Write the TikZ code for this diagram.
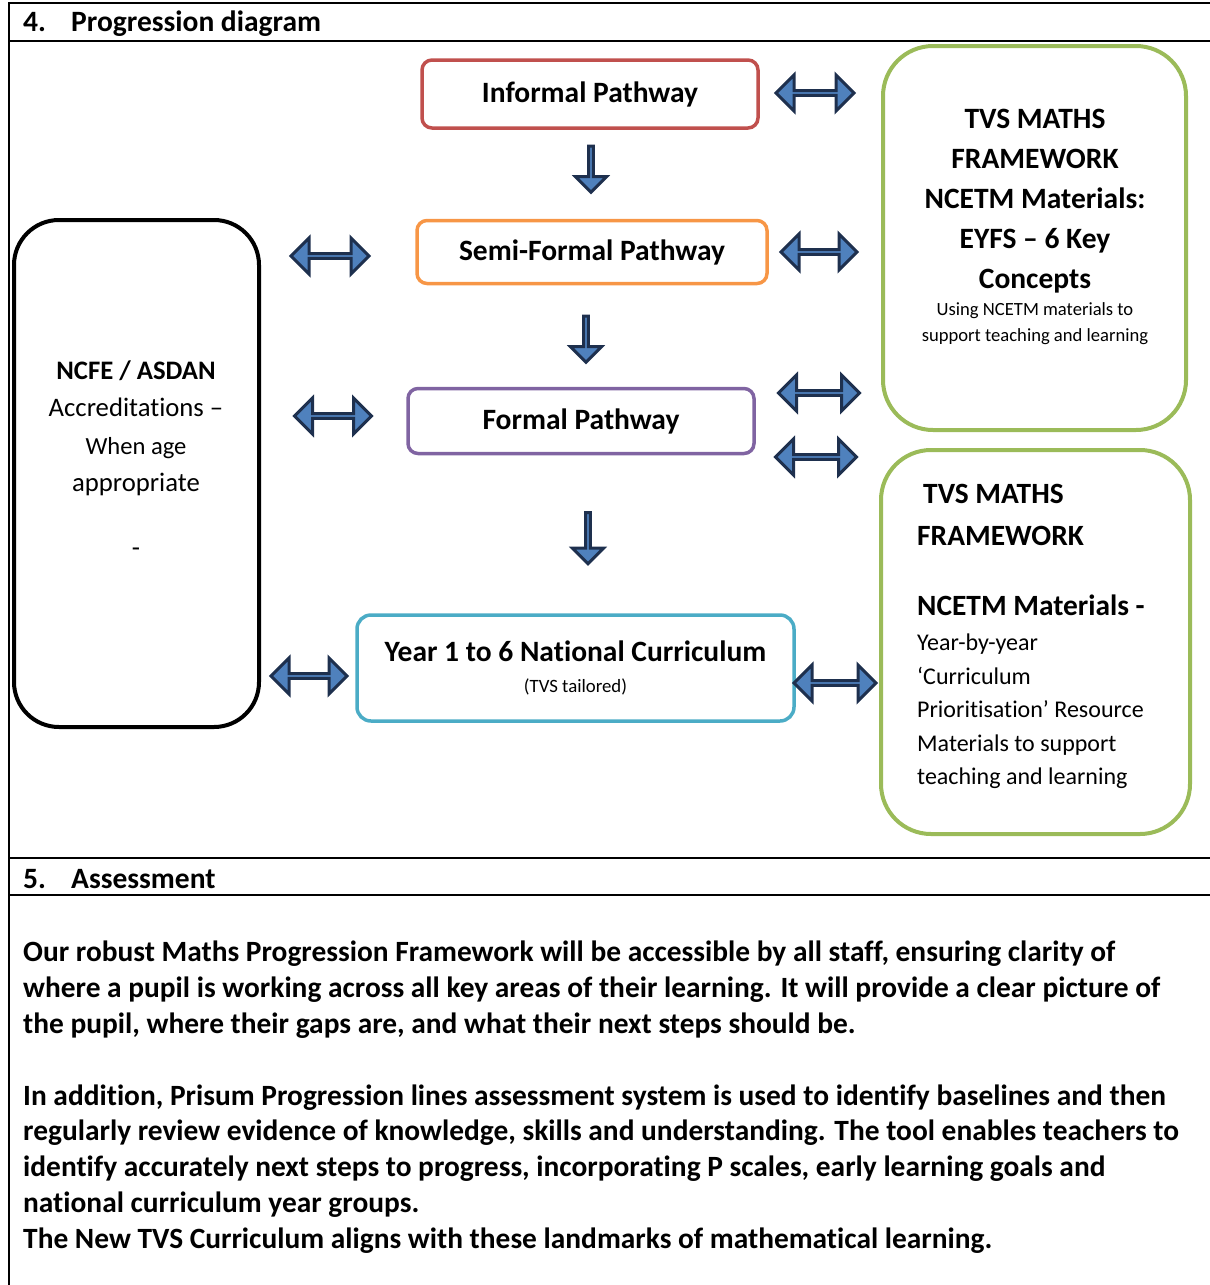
\documentclass[tikz,border=0pt]{standalone}
\usepackage{fontspec}
\setmainfont{Carlito}[Ligatures=NoCommon]
\usetikzlibrary{shapes.arrows}

\definecolor{infred}{HTML}{C0504D}
\definecolor{semiorange}{HTML}{F79646}
\definecolor{formalpurple}{HTML}{8064A2}
\definecolor{yearblue}{HTML}{4BACC6}
\definecolor{frameworkgreen}{HTML}{9BBB59}
\definecolor{arrowfill}{HTML}{4F81BD}
\definecolor{arrowline}{RGB}{30,48,78}

\tikzset{
  pathbox/.style={draw, line width=3.5pt, rounded corners=10pt, inner sep=0pt,
    font=\bfseries\fontsize{29.5}{31}\selectfont},
  sidebox/.style={draw, line width=4pt, rounded corners=45pt},
  linkarrow/.style={double arrow, draw=arrowline, fill=arrowfill, line width=3pt,
    minimum width=36pt, double arrow head extend=10pt, inner sep=0pt},
  downarrow/.style={single arrow, shape border rotate=270, draw=arrowline, fill=arrowfill,
    line width=3pt, minimum width=31pt, single arrow head extend=8.5pt, inner sep=0pt}
}

\begin{document}
\begin{tikzpicture}[x = 1pt, y = -1pt]
\useasboundingbox (0, 0) rectangle (1210, 1285);

% table lines
\draw[line width=2pt] (9, 1285) -- (9, 3) -- (1210, 3);
\draw[line width=2pt] (9, 41) -- (1210, 41);
\draw[line width=2pt] (9, 858) -- (1210, 858);
\draw[line width=2pt] (9, 895) -- (1210, 895);
\node[anchor=base west, inner sep=0pt, font=\bfseries\fontsize{29.5}{32}\selectfont] (sec4) at (23, 31.5) {\makebox[48pt][l]{4.}Progression diagram};
\node[anchor=base west, inner sep=0pt, font=\bfseries\fontsize{29.5}{32}\selectfont] (sec5) at (23, 888.5) {\makebox[48pt][l]{5.}Assessment};

% pathways
\node[pathbox, draw=infred, minimum width=336pt, minimum height=68pt] (informal) at (590, 94) {Informal Pathway};
\node[pathbox, draw=semiorange, minimum width=350pt, minimum height=63pt] (semiformal) at (592, 252) {Semi-Formal Pathway};
\node[pathbox, draw=formalpurple, minimum width=346pt, minimum height=65pt] (formal) at (581, 421) {Formal Pathway};
\node[pathbox, draw=yearblue, rounded corners=14pt, minimum width=437pt, minimum height=106pt, align=center] (year) at (575.5, 668)
  {Year 1 to 6 National Curriculum\\\mdseries\fontsize{18.8}{22}\selectfont (TVS tailored)};

% side boxes
\node[sidebox, draw=black, minimum width=245pt, minimum height=507pt] (ncfe) at (136.5, 473.5) {};
\node[sidebox, draw=frameworkgreen, rounded corners=50pt, minimum width=303pt, minimum height=384pt] (eyfs) at (1034.5, 238) {};
\node[sidebox, draw=frameworkgreen, rounded corners=50pt, minimum width=309pt, minimum height=384pt] (yearly) at (1035.5, 642) {};

% side box texts
\node[anchor=north, inner sep=0pt, align=center, font=\fontsize{26.7}{37.3}\selectfont] (ncfetext) at (136, 360.5)
  {\textbf{NCFE / ASDAN}\\Accreditations –\\{\fontsize{24.6}{28}\selectfont When age}\\appropriate\\[28pt]-};
\node[anchor=north, inner sep=0pt, align=center, font=\bfseries\fontsize{29.5}{40.2}\selectfont] (eyfstitle) at (1035, 108.5)
  {TVS MATHS\\FRAMEWORK\\NCETM Materials:\\EYFS – 6 Key\\Concepts};
\node[anchor=north, inner sep=0pt, align=center, font=\fontsize{18.6}{26}\selectfont] (eyfsnote) at (1035, 302)
  {Using NCETM materials to\\support teaching and learning};
\node[anchor=north west, inner sep=0pt, align=left, font=\bfseries\fontsize{29.4}{42}\selectfont] (yearlytitle) at (917, 484.5)
  {\hspace*{6pt}TVS MATHS\\FRAMEWORK};
\node[anchor=north west, inner sep=0pt, font=\bfseries\fontsize{29.4}{32}\selectfont] (yearlyhead) at (917, 594.5) {NCETM Materials -};
\node[anchor=north west, inner sep=0pt, align=left, font=\fontsize{24}{33.5}\selectfont] (yearlynote) at (917, 634)
  {Year-by-year\\‘Curriculum\\Prioritisation’ Resource\\Materials to support\\teaching and learning};

% links between boxes
\node[linkarrow, minimum height=78pt] (a1) at (815, 93) {};
\node[linkarrow, minimum height=78pt] (a2) at (330, 256) {};
\node[linkarrow, minimum height=76pt] (a3) at (819, 252) {};
\node[linkarrow, minimum height=77pt] (a4) at (333, 416) {};
\node[linkarrow, minimum height=81pt] (a5) at (819, 393) {};
\node[linkarrow, minimum height=81pt] (a6) at (816, 457) {};
\node[linkarrow, minimum height=76pt] (a7) at (309, 676) {};
\node[linkarrow, minimum height=82pt] (a8) at (835, 683) {};

% steps down
\node[downarrow, minimum height=46pt] (d1) at (591, 168) {};
\node[downarrow, minimum height=46pt] (d2) at (586, 338) {};
\node[downarrow, minimum height=51pt] (d3) at (588, 537) {};

% assessment text
\node[anchor=north west, inner sep=0pt, align=left, font=\bfseries\fontsize{29.4}{35.8}\selectfont] (assess) at (23, 941)
  {Our robust Maths Progression Framework will be accessible by all staff, ensuring clarity of\\
   where a pupil is working across all key areas of their learning. It will provide a clear picture of\\
   the pupil, where their gaps are, and what their next steps should be.\\[35.8pt]
   In addition, Prisum Progression lines assessment system is used to identify baselines and then\\
   regularly review evidence of knowledge, skills and understanding. The tool enables teachers to\\
   identify accurately next steps to progress, incorporating P scales, early learning goals and\\
   national curriculum year groups.\\
   The New TVS Curriculum aligns with these landmarks of mathematical learning.};
\end{tikzpicture}
\end{document}
